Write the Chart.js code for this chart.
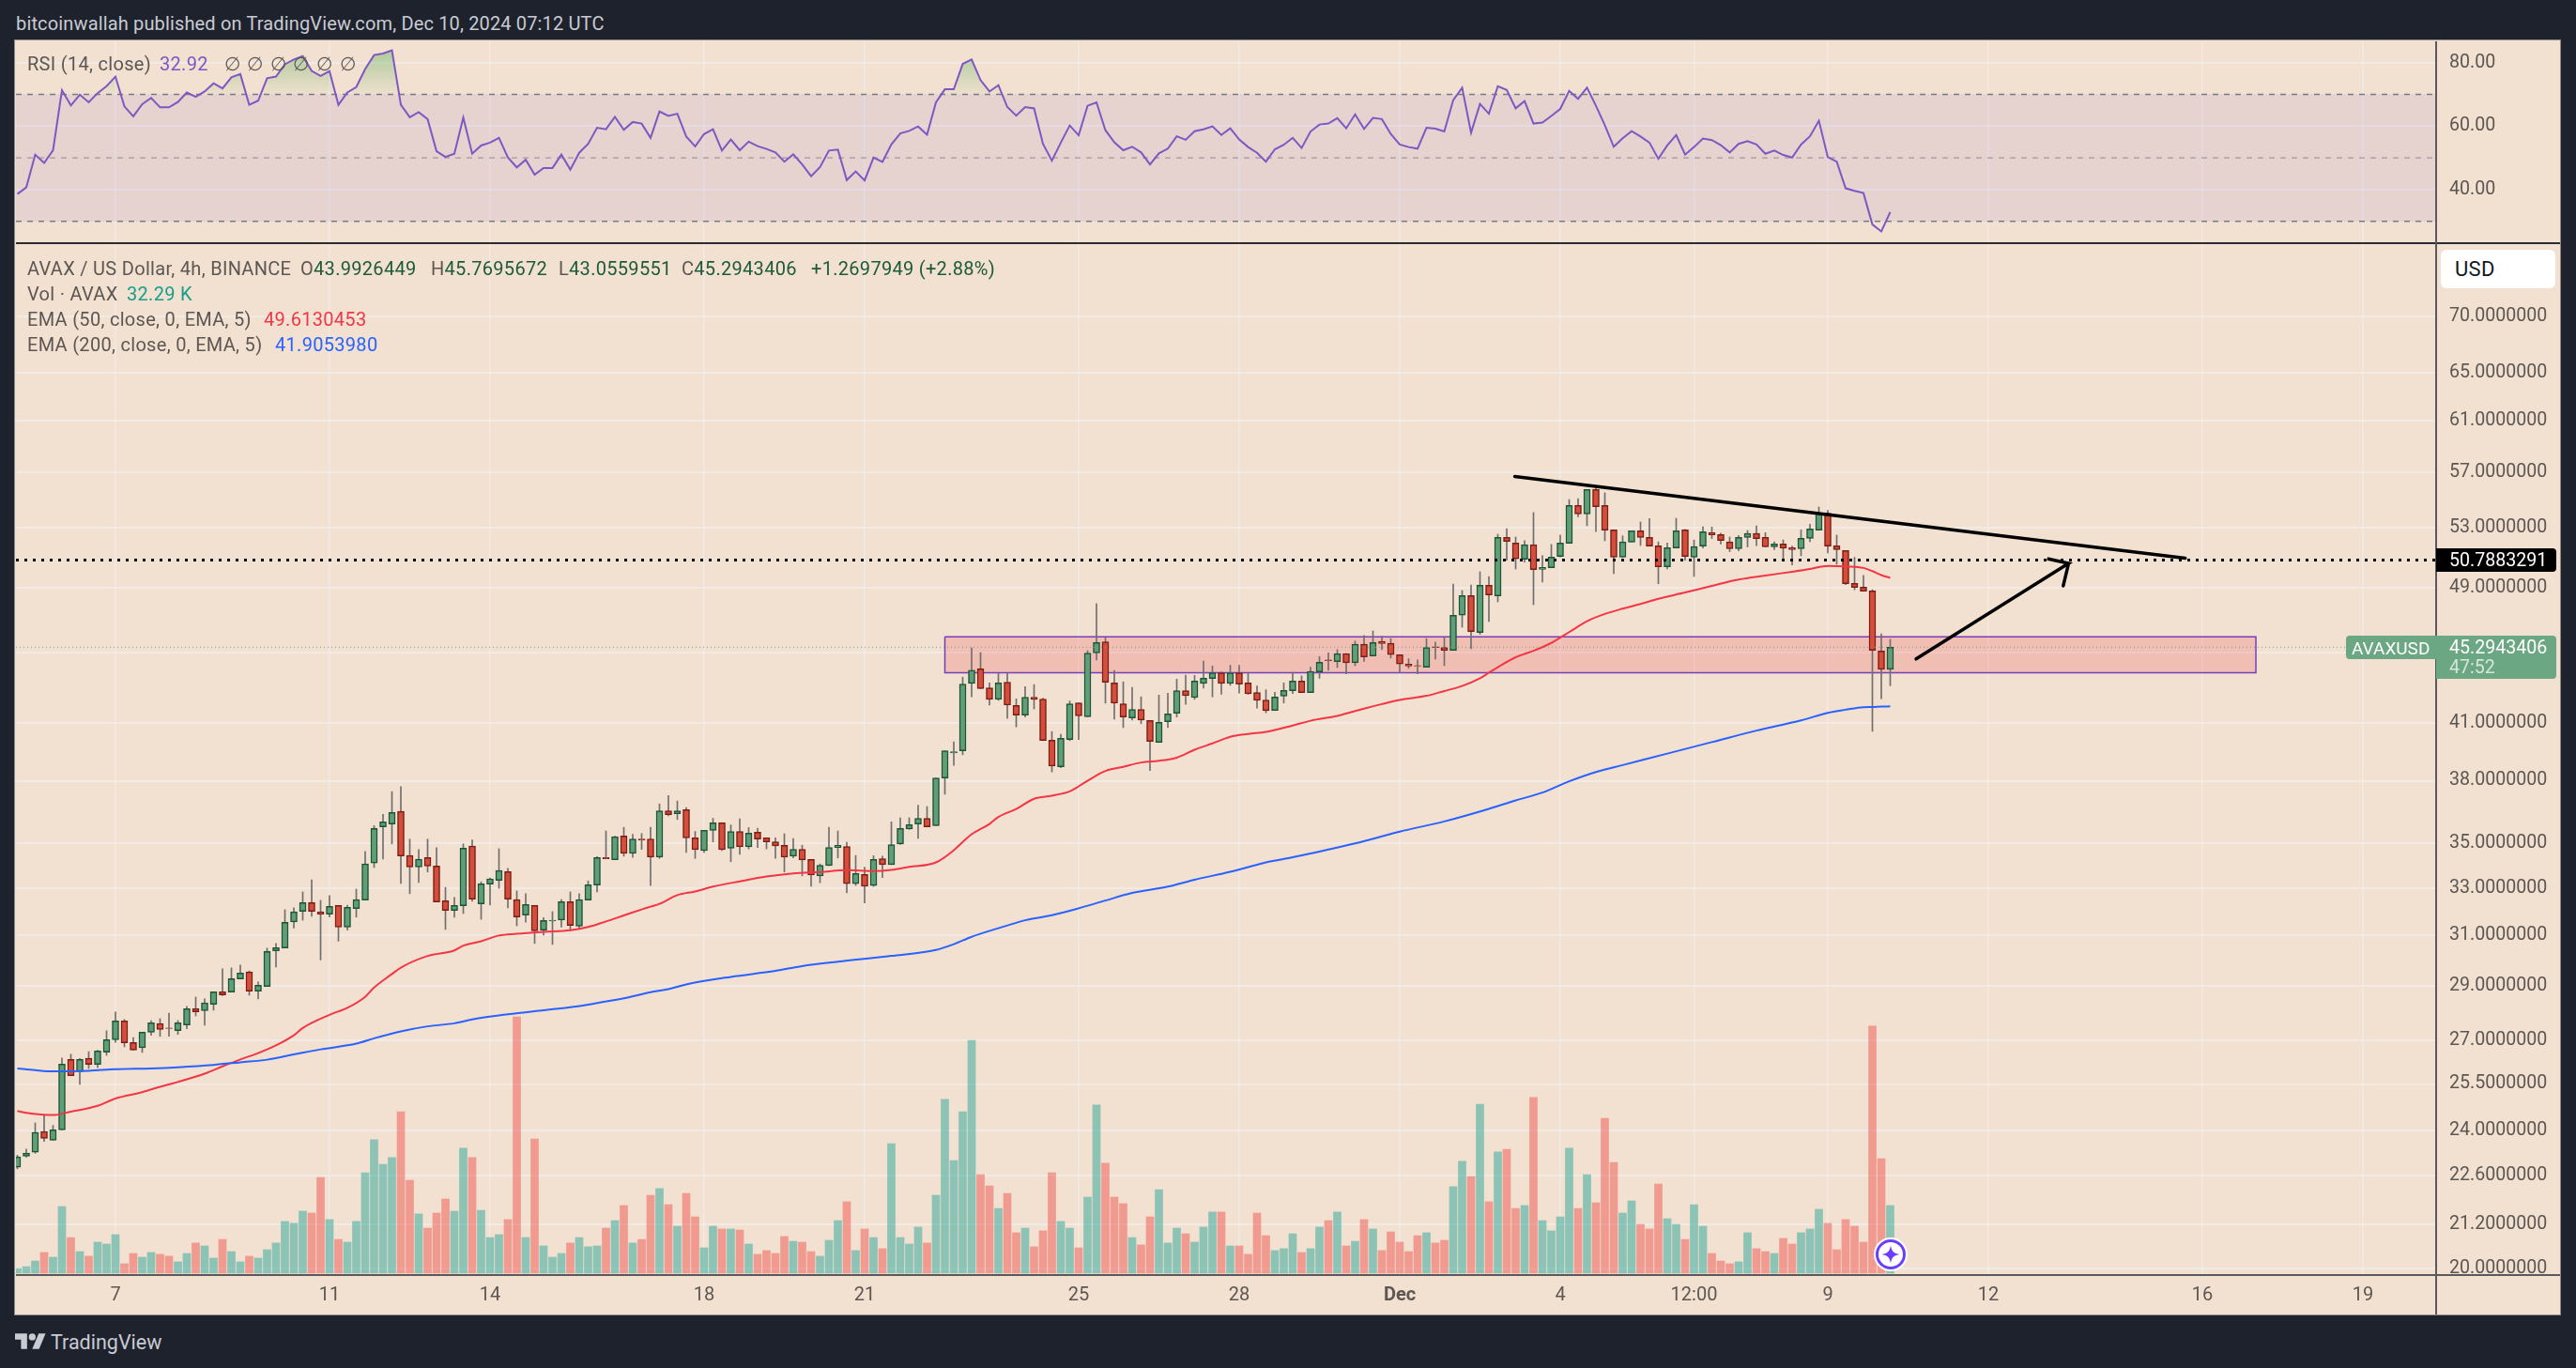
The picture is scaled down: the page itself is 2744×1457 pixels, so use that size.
<!DOCTYPE html>
<html><head><meta charset="utf-8">
<script src="https://cdn.jsdelivr.net/npm/chart.js@4/dist/chart.umd.js"></script>
<style>
html,body{margin:0;padding:0;background:#1e222d;width:2744px;height:1457px;overflow:hidden}
body{font-family:Roboto,"Noto Sans",sans-serif}
#panel{position:absolute;left:16px;top:43px;width:2711px;height:1357px;background:#f2e0d0;box-shadow:0 0 0 1px #8d8a88}
canvas{position:absolute}
.t{position:absolute;white-space:pre;line-height:1;transform:translateY(-50%);font-size:20px;color:#5c5753;letter-spacing:.3px}
.l{position:absolute}
</style></head><body>
<div id="panel"></div>
<canvas id="rsiC" width="2710" height="215" style="left:17px;top:44px"></canvas>
<canvas id="mainC" width="2710" height="1141" style="left:17px;top:260px"></canvas>
<div id="ui"></div>
<script>
// ---------- data ----------
const open=[22.86,23.19,23.31,23.96,23.68,24.01,26.34,25.92,26.38,26.17,
26.59,27.03,27.71,26.93,26.75,27.30,27.61,27.45,27.36,27.56,
28.16,28.08,28.32,28.79,28.78,29.28,29.55,28.81,28.99,30.38,
30.50,31.56,32.00,32.37,31.98,31.88,32.25,31.35,32.12,32.48,
34.10,35.76,35.90,36.50,34.44,33.92,34.35,33.97,32.45,32.04,
32.24,34.87,32.32,33.17,33.33,33.72,32.50,31.84,32.25,31.22,
31.60,31.64,32.41,31.38,32.48,33.13,34.35,34.25,35.34,34.54,
35.20,35.20,34.37,36.53,36.38,36.58,35.25,34.66,35.60,35.95,
34.77,35.55,34.84,35.51,35.25,35.07,34.90,34.41,34.72,34.26,
33.53,33.99,34.80,34.85,33.19,33.59,33.11,34.30,34.03,34.97,
35.66,35.89,36.17,35.82,38.13,39.42,39.52,43.19,44.02,42.94,
42.29,43.26,41.95,41.42,42.41,42.31,40.08,38.70,40.11,42.10,
41.33,44.95,45.62,43.21,42.05,41.27,41.74,41.13,39.96,41.06,
41.52,42.78,42.39,43.19,43.46,43.80,43.19,43.80,43.21,42.67,
42.25,41.68,42.47,42.78,43.33,42.67,43.85,44.54,44.44,44.91,
44.38,45.47,44.78,45.64,45.53,44.85,44.30,44.21,44.12,45.32,
45.28,45.11,47.24,48.47,46.18,49.14,48.45,52.34,51.95,50.85,
51.83,50.18,50.28,51.04,51.92,54.58,53.96,55.74,54.58,52.85,
50.98,52.0,52.79,52.34,51.76,50.34,51.61,52.85,50.98,51.74,
52.66,52.53,52.02,51.55,52.32,52.60,52.34,51.68,51.89,51.63,
51.55,52.27,52.83,54.03,51.76,51.44,49.26,49.02,48.78,45.07,
43.9926];
const high=[23.22,23.41,24.23,24.49,24.15,26.39,26.52,26.37,26.61,26.66,
27.35,28.03,27.76,27.11,27.30,27.72,27.79,27.99,27.72,28.24,
28.59,28.52,28.79,29.67,29.71,29.82,29.59,29.16,30.49,30.68,
32.07,32.15,32.83,33.36,32.47,32.67,32.25,32.26,32.95,34.62,
35.82,36.36,37.46,37.70,35.19,34.71,35.19,34.80,33.03,32.59,
34.97,35.15,33.27,33.44,34.75,33.86,32.87,32.75,32.25,31.74,
31.99,32.50,32.83,32.75,33.31,34.39,35.57,35.33,35.74,35.41,
35.45,35.74,36.86,37.27,37.0,36.68,35.55,35.60,36.17,35.95,
35.85,36.14,35.73,35.70,35.25,35.25,35.44,35.22,34.91,34.26,
34.06,35.74,35.57,35.04,34.44,33.92,34.43,34.41,36.0,36.19,
36.19,36.80,36.73,38.14,39.53,40.0,43.55,45.25,44.97,43.21,
43.78,43.78,42.32,43.01,43.12,42.36,40.54,40.39,42.20,42.10,
45.09,47.95,45.86,43.93,43.28,42.96,42.43,41.13,42.53,42.64,
43.43,43.66,43.64,44.47,44.19,43.85,44.23,44.23,43.78,43.05,
42.83,42.69,43.22,43.82,43.62,44.12,44.74,44.96,45.15,44.91,
45.66,46.0,46.27,45.94,45.81,44.85,44.61,44.54,45.81,45.60,
45.90,49.22,48.80,49.16,50.02,49.71,52.55,52.94,52.36,52.10,
54.07,51.08,51.85,52.49,55.0,55.07,55.74,55.95,55.49,52.85,
52.44,52.79,53.40,53.64,52.02,51.95,53.66,52.89,52.15,53.07,
53.05,52.62,52.36,52.47,52.81,53.13,52.66,52.02,52.15,51.74,
52.85,53.25,54.46,54.23,52.49,51.44,50.98,49.78,48.85,46.10,
45.7696];
const low=[22.81,23.16,23.28,23.65,23.68,24.01,25.78,25.49,26.03,26.06,
26.48,26.94,26.78,26.66,26.58,27.19,27.15,27.15,27.22,27.42,
27.89,27.55,28.10,28.64,28.78,29.28,28.66,28.52,28.99,29.74,
30.50,31.31,31.63,31.79,30.02,31.76,30.77,31.22,31.76,32.48,
33.90,34.28,34.97,33.20,32.75,33.24,33.70,32.40,31.25,31.75,
31.91,32.43,31.67,32.27,32.99,32.15,31.40,31.55,30.68,31.02,
30.64,31.35,31.20,31.31,32.48,32.83,34.29,34.25,34.41,34.35,
34.72,33.11,34.31,36.29,36.11,34.58,34.31,34.58,35.06,34.66,
34.16,34.49,34.74,34.80,34.74,34.31,33.70,34.33,33.53,33.07,
33.23,33.99,34.33,32.79,33.11,32.36,33.07,33.45,34.03,34.94,
35.64,35.23,35.76,35.82,37.33,38.77,39.32,42.43,42.89,41.97,
42.24,41.25,40.79,41.32,41.76,40.06,38.44,38.65,40.06,40.11,
41.33,44.54,42.08,41.21,40.75,41.15,40.96,38.51,39.96,40.75,
41.32,42.02,42.29,42.92,42.43,42.58,43.08,42.64,42.57,41.81,
41.55,41.68,42.09,42.62,42.67,42.67,43.48,43.94,44.10,43.73,
44.20,44.45,44.78,45.15,44.65,43.82,44.05,43.73,44.12,44.59,
44.21,45.11,46.50,45.21,46.07,46.85,48.08,50.78,50.20,50.66,
47.90,49.35,50.28,51.0,51.92,53.76,53.14,52.74,52.10,49.90,
50.98,52.0,51.78,51.74,49.24,50.21,51.61,50.78,49.71,51.61,
52.25,51.87,51.36,51.42,51.68,51.76,51.68,51.49,50.89,50.47,
51.08,52.04,52.83,51.27,50.51,49.18,48.85,48.76,40.55,42.33,
43.0560];
const close=[23.17,23.29,23.93,23.74,24.01,26.18,25.78,26.34,26.17,26.63,
27.03,27.71,26.92,26.66,27.30,27.64,27.40,27.43,27.64,28.16,
28.04,28.37,28.79,28.67,29.29,29.51,28.81,29.04,30.36,30.51,
31.54,31.98,32.37,32.00,31.88,32.21,31.35,32.17,32.50,34.06,
35.69,36.00,36.45,34.42,33.92,34.27,33.96,32.40,32.04,32.25,
34.78,32.52,33.18,33.40,33.77,32.52,31.76,32.29,31.19,31.62,
31.63,32.41,31.41,32.50,33.14,34.35,34.29,35.30,34.54,35.20,
35.15,34.37,36.53,36.34,36.53,35.25,34.71,35.60,35.95,34.71,
35.55,34.84,35.47,35.19,35.06,34.88,34.37,34.72,34.24,33.57,
34.00,34.81,34.90,33.19,33.63,33.07,34.26,34.03,34.94,35.69,
35.86,36.17,35.76,38.14,39.53,39.48,43.15,43.94,42.89,42.29,
43.21,41.98,41.42,42.41,42.29,40.06,38.74,40.18,42.05,41.39,
44.95,45.57,43.25,42.08,41.32,41.74,41.16,40.01,41.03,41.49,
42.78,42.50,43.32,43.48,43.80,43.19,43.80,43.14,42.60,42.23,
41.67,42.43,42.79,43.33,42.67,43.87,44.41,44.50,44.91,44.38,
45.47,44.72,45.58,45.51,44.85,44.30,44.18,44.18,45.28,45.28,
45.11,47.24,48.47,46.24,49.14,48.51,52.34,52.06,50.87,51.83,
50.16,50.30,51.0,51.95,54.58,53.96,55.74,54.49,52.83,50.98,
52.02,52.79,52.32,51.74,50.34,51.63,52.79,51.04,51.70,52.72,
52.51,52.12,51.55,52.34,52.60,52.25,51.68,51.89,51.59,51.49,
52.27,52.92,54.03,51.74,51.49,49.24,49.0,48.76,45.11,43.99,
45.2943];
const volumeK=[2.2,3.1,5.8,9.9,7.6,31.8,17.0,10.3,8.1,14.8,
13.9,18.4,4.5,9.4,7.6,9.9,9.0,8.1,5.4,9.4,
14.4,13.0,7.2,16.1,10.3,5.4,8.1,7.2,11.2,14.4,
24.7,23.8,29.6,28.7,45.7,25.6,16.1,14.8,24.7,48.0,
63.7,52.0,55.2,77.1,44.4,28.3,21.5,28.7,35.4,29.6,
59.7,55.2,30.0,17.0,18.4,25.6,122.4,17.0,64.1,13.0,
7.6,9.4,14.4,17.0,12.6,13.0,21.5,25.1,32.3,14.4,
16.1,37.2,40.4,32.7,22.4,38.1,26.9,12.1,22.4,21.1,
21.1,20.6,13.9,9.0,10.8,9.4,17.5,15.2,14.8,10.3,
8.1,15.7,25.1,34.1,10.8,21.1,17.0,11.7,61.9,17.0,
13.9,22.0,14.4,37.2,83.0,53.8,77.1,111.2,47.1,41.7,
30.9,38.1,19.3,21.5,12.6,20.2,48.0,24.7,21.5,12.1,
36.3,80.3,52.5,36.3,33.2,17.0,13.5,26.9,39.9,14.4,
21.5,18.8,14.8,22.0,29.2,29.2,13.0,13.0,9.0,28.7,
17.9,10.8,11.7,18.8,9.9,11.7,22.0,25.1,29.2,13.0,
15.2,25.6,21.1,10.8,19.7,14.8,10.3,17.9,19.3,14.4,
15.7,41.3,53.4,46.2,80.7,34.1,57.9,59.2,30.9,32.3,
83.9,25.1,20.2,26.9,59.7,30.9,47.1,33.6,74.0,52.9,
28.7,34.5,23.3,21.1,42.6,26.0,23.3,16.1,32.7,22.4,
9.4,5.8,4.5,5.4,19.3,11.7,10.3,9.4,16.6,13.9,
19.3,21.1,30.5,23.8,11.2,25.6,22.4,14.8,118.0,54.7,
32.29];
const rsiValues=[38.6,40.7,51.0,48.4,52.4,71.3,66.5,69.9,67.5,70.4,
72.6,75.6,66.2,63.1,66.9,68.9,65.9,65.9,67.6,70.6,
69.2,70.9,73.5,71.9,75.4,76.4,66.7,68.0,75.1,75.6,
79.5,81.0,82.1,77.4,75.8,77.3,66.7,70.6,72.3,78.0,
82.4,82.9,83.9,66.7,62.8,64.4,62.2,52.1,50.3,51.3,
62.7,51.3,53.9,54.8,56.3,50.1,47.0,49.4,44.7,46.8,
46.8,51.0,46.3,51.6,54.4,59.5,59.0,62.9,58.8,61.3,
60.8,56.3,64.6,63.2,63.9,56.7,53.6,57.5,59.0,52.3,
55.8,52.4,55.1,53.7,52.8,51.7,48.8,51.1,47.9,44.2,
47.1,52.3,52.6,43.0,45.7,42.9,50.1,48.7,54.2,57.7,
58.5,59.9,57.3,67.5,71.6,71.6,79.6,81.0,74.5,70.9,
72.9,66.0,63.3,66.0,65.6,54.4,49.1,54.8,60.2,57.1,
66.4,67.5,58.7,54.9,52.4,53.5,51.7,47.9,51.4,52.9,
56.8,55.7,58.4,59.0,59.9,57.2,59.3,55.8,53.4,51.6,
48.8,52.7,54.1,56.3,53.1,58.3,60.5,60.8,62.5,59.3,
63.7,59.1,62.6,62.2,57.5,54.2,53.4,52.9,59.5,59.2,
58.3,68.2,72.1,57.9,67.0,63.9,72.6,71.4,65.6,67.9,
60.8,61.1,63.2,65.4,71.1,68.6,72.1,66.4,60.3,53.5,
56.2,58.4,56.7,54.8,49.7,53.9,57.2,51.0,53.4,56.1,
55.6,54.0,51.7,54.4,55.3,54.2,51.3,52.3,50.9,50.1,
54.2,56.8,61.7,50.2,48.8,40.4,39.6,38.9,29.0,26.8,
32.92];
const ema50Bars=[0,1,4,6,9,11,14,16,18,21,23,25,27,29,31,32,35,37,39,40,42,43,46,49,50,52,54,56,59,62,64,66,68,70,71,72,74,76,78,81,84,87,90,93,96,98,100,103,105,106,107,109,110,112,114,116,118,119,121,122,124,126,128,130,132,134,136,138,140,143,145,148,151,153,155,158,160,162,164,165,166,168,170,172,174,176,178,180,182,184,187,190,193,196,199,201,203,205,207,208,209,210];
const ema50Values=[24.61,24.55,24.48,24.59,24.78,25.02,25.23,25.41,25.57,25.85,26.10,26.34,26.56,26.83,27.19,27.45,27.93,28.19,28.60,28.95,29.47,29.72,30.18,30.40,30.59,30.77,31.0,31.07,31.15,31.22,31.35,31.58,31.83,32.08,32.20,32.32,32.69,32.85,33.06,33.29,33.50,33.64,33.70,33.78,33.74,33.79,33.93,34.13,34.68,35.06,35.42,35.90,36.23,36.61,37.11,37.26,37.47,37.72,38.27,38.49,38.70,38.92,39.01,39.17,39.58,39.91,40.26,40.41,40.52,40.86,41.12,41.38,41.78,42.03,42.26,42.49,42.76,43.04,43.48,43.80,44.12,44.70,45.08,45.55,46.20,46.87,47.32,47.65,47.94,48.27,48.67,49.10,49.51,49.77,50.02,50.20,50.41,50.37,50.27,50.06,49.80,49.613];
const ema200Bars=[0,2,4,8,11,15,18,22,25,28,31,34,38,40,43,46,49,51,55,59,62,64,68,71,73,75,80,85,88,92,98,103,105,107,110,113,116,119,122,125,129,132,136,140,143,145,150,155,160,165,168,171,174,177,180,185,190,195,200,203,205,207,208,209,210];
const ema200Values=[26.03,25.97,25.93,25.95,26.0,26.03,26.07,26.15,26.24,26.33,26.51,26.69,26.89,27.08,27.33,27.51,27.62,27.76,27.95,28.10,28.21,28.31,28.54,28.77,28.89,29.07,29.36,29.59,29.78,29.95,30.18,30.42,30.65,30.95,31.30,31.63,31.84,32.13,32.46,32.79,33.06,33.36,33.71,34.13,34.36,34.53,34.99,35.54,36.02,36.62,37.03,37.41,37.97,38.44,38.79,39.38,39.98,40.59,41.14,41.55,41.72,41.86,41.87,41.89,41.9054];
const timeTickBars=[11,35,53,77,95,119,137,155,173,188,203,221,245,263];
const timeTickLabels=['7','11','14','18','21','25','28','Dec','4','12:00','9','12','16','19'];
const priceTicks=[70,65,61,57,53,49,45,41,38,35,33,31,29,27,25.5,24,22.6,21.2,20];
const rsiTicks=[80,60,40];
const rsiLevels=[70,50,30];
const zonePrices=[45.92,43.8];
const zoneBars=[104,251];
const resistancePrice=50.7883291;
const lastPrice=45.2943406;
const trendBars=[167.9,243.07];
const trendPrices=[56.7,50.92];
const arrowBars=[212.9,230.0,227.6,230.0,229.4];
const arrowPrices=[44.6,50.57,50.89,50.57,49.10];

// ---------- scales ----------
const xMin=-0.158,xMax=271.21;
const rsiMin=23.11,rsiMax=86.72;
const priceMin=19.86,priceMax=76.96;
const volMin=-0.45,volMax=491.5;
const pts=(xs,ys)=>xs.map((x,i)=>({x,y:ys[i]}));
const bars=open.map((_,i)=>i);
const up=open.map((o,i)=>close[i]>=o);
const gridColor='rgba(240,243,250,0.5)';
const xScale=(extra)=>Object.assign({type:'linear',min:xMin,max:xMax,bounds:'data',offset:false,
  grid:{color:gridColor,lineWidth:1.5,offset:false,drawTicks:false},border:{display:false},
  afterBuildTicks:s=>{s.ticks=timeTickBars.map(v=>({value:v}));}},extra);
const FONT='Roboto';

// ---------- RSI pane ----------
const rsiCtx=document.getElementById('rsiC').getContext('2d');
const yOf=v=>(rsiMax-v)/(rsiMax-rsiMin)*215;
const obGrad=rsiCtx.createLinearGradient(0,yOf(84),0,yOf(70));
obGrad.addColorStop(0,'rgba(76,175,80,0.42)');obGrad.addColorStop(1,'rgba(76,175,80,0.02)');
new Chart(rsiCtx,{type:'line',data:{datasets:[
 {data:pts(bars,rsiValues),borderColor:'#7e57c2',borderWidth:2,pointRadius:0,order:1,
  fill:{target:{value:70},above:obGrad,below:'rgba(0,0,0,0)'}},
 {data:pts([xMin,xMax],[rsiLevels[0],rsiLevels[0]]),borderColor:'#787b86',borderWidth:1.5,borderDash:[6,6],pointRadius:0,order:2,
  fill:{target:{value:rsiLevels[2]},above:'rgba(126,87,194,0.1)',below:'rgba(126,87,194,0.1)'}},
 {data:pts([xMin,xMax],[rsiLevels[1],rsiLevels[1]]),borderColor:'rgba(120,123,134,0.55)',borderWidth:1.5,borderDash:[6,6],pointRadius:0,order:2},
 {data:pts([xMin,xMax],[rsiLevels[2],rsiLevels[2]]),borderColor:'#787b86',borderWidth:1.5,borderDash:[6,6],pointRadius:0,order:2}
]},options:{responsive:false,animation:false,devicePixelRatio:1,layout:{padding:0},events:[],
 plugins:{legend:{display:false},tooltip:{enabled:false}},
 scales:{
  x:xScale({ticks:{display:false,autoSkip:false},afterFit:s=>{s.height=0;s.paddingLeft=0;s.paddingRight=0;}}),
  y:{type:'linear',position:'right',min:rsiMin,max:rsiMax,bounds:'data',
   grid:{color:gridColor,lineWidth:2,drawTicks:false},border:{display:false},
   afterBuildTicks:s=>{s.ticks=rsiTicks.map(v=>({value:v}));},
   afterFit:s=>{s.width=132;s.paddingTop=0;s.paddingBottom=0;},
   ticks:{autoSkip:false,padding:14,crossAlign:'near',color:'#5c5753',font:{family:FONT,size:19.6},callback:v=>v.toFixed(2)}}
 }}});

// ---------- price pane ----------
const mainCtx=document.getElementById('mainC').getContext('2d');
const line=(xs,ys,o)=>Object.assign({type:'line',data:pts(xs,ys),pointRadius:0,yAxisID:'y',fill:false},o);
new Chart(mainCtx,{type:'bar',data:{datasets:[
 line(arrowBars,arrowPrices,{borderColor:'#000',borderWidth:3.5,order:1,borderCapStyle:'round'}),
 line(trendBars,trendPrices,{borderColor:'#000',borderWidth:3.5,order:1,borderCapStyle:'round'}),
 line([xMin,xMax],[resistancePrice,resistancePrice],{borderColor:'#000',borderWidth:3,borderDash:[3,6],order:2}),
 line([xMin,xMax],[lastPrice,lastPrice],{borderColor:'#6ba583',borderWidth:1,borderDash:[1,3],order:2}),
 line(ema200Bars,ema200Values,{borderColor:'#2962ff',borderWidth:2,order:3,cubicInterpolationMode:'monotone'}),
 line(ema50Bars,ema50Values,{borderColor:'#f23645',borderWidth:2,order:4,cubicInterpolationMode:'monotone'}),
 {type:'bar',label:'body',data:pts(bars,open.map((o,i)=>[o,close[i]])),yAxisID:'y',grouped:false,barThickness:7,categoryPercentage:1,barPercentage:1,
  backgroundColor:up.map(u=>u?'#5f9e78':'#d44e3c'),borderColor:up.map(u=>u?'#1b5536':'#7c1c14'),borderWidth:1.5,borderSkipped:false,order:5},
 {type:'bar',label:'wick',data:pts(bars,low.map((l,i)=>[l,high[i]])),yAxisID:'y',grouped:false,barThickness:1,categoryPercentage:1,barPercentage:1,
  backgroundColor:'#6f6f6f',borderWidth:0,order:6},
 line(zoneBars,[zonePrices[0],zonePrices[0]],{borderWidth:0,order:7,fill:{target:{value:zonePrices[1]},above:'rgba(242,54,69,0.2)',below:'rgba(242,54,69,0.2)'}}),
 line([zoneBars[0],zoneBars[1],zoneBars[1],zoneBars[0],zoneBars[0]],[zonePrices[0],zonePrices[0],zonePrices[1],zonePrices[1],zonePrices[0]],{borderColor:'#6a3fc8',borderWidth:1.5,order:7}),
 {type:'bar',label:'volume',data:pts(bars,volumeK),yAxisID:'v',grouped:false,barThickness:8,categoryPercentage:1,barPercentage:1,
  backgroundColor:up.map(u=>u?'rgba(38,166,154,0.5)':'rgba(239,83,80,0.5)'),borderWidth:0,order:8}
]},options:{responsive:false,animation:false,devicePixelRatio:1,layout:{padding:0},events:[],
 plugins:{legend:{display:false},tooltip:{enabled:false}},
 scales:{
  x:xScale({ticks:{autoSkip:false,maxRotation:0,padding:11,color:'#5c5753',
     font:c=>({family:FONT,size:20,weight:timeTickLabels[c.index]==='Dec'?'700':'400'}),
     callback:v=>timeTickLabels[timeTickBars.indexOf(v)]},
    afterFit:s=>{s.height=44;s.paddingLeft=0;s.paddingRight=0;}}),
  y:{type:'logarithmic',position:'right',min:priceMin,max:priceMax,bounds:'data',
   grid:{color:gridColor,lineWidth:2,drawTicks:false},border:{display:false},
   afterBuildTicks:s=>{s.ticks=priceTicks.map(v=>({value:v}));},
   afterFit:s=>{s.width=132;s.paddingTop=0;s.paddingBottom=0;},
   ticks:{autoSkip:false,padding:14,crossAlign:'near',color:'#5c5753',font:{family:FONT,size:19.6},callback:v=>v.toFixed(7)}},
  v:{type:'linear',display:false,min:volMin,max:volMax,bounds:'data'}
 }}});

// ---------- overlay text and chrome ----------
const ui=document.getElementById('ui');
function box(l,t,w,h,css){const d=document.createElement('div');d.className='l';d.style.cssText=`left:${l}px;top:${t}px;width:${w}px;height:${h}px;${css||''}`;ui.appendChild(d);return d;}
function txt(x,y,s,color,size,extra){const d=document.createElement('div');d.className='t';d.textContent=s;d.style.left=x+'px';d.style.top=y+'px';if(color)d.style.color=color;if(size)d.style.fontSize=size+'px';if(extra)d.style.cssText+=extra;ui.appendChild(d);return d;}
// cover under the clipped bottom tick label
box(2596,1358,131,42,'background:#f2e0d0');
// pane separators
box(17,258,2710,2,'background:#2a2c33');
box(17,1357,2710,2,'background:#5a5a5e');
box(2594,44,2,1356,'background:#5a5a5e');
// header
txt(17,25,'bitcoinwallah published on TradingView.com, Dec 10, 2024 07:12 UTC','#c9cbd3',20,'letter-spacing:.15px');
// RSI legend
txt(29,68,'RSI (14, close)');
txt(170,68,String(rsiValues[rsiValues.length-1].toFixed(2)),'#7e57c2');
[239,263,288,312,337,362].forEach(x=>txt(x,68,'∅'));
// main legend
const gv='#1d5a3a';
txt(29,285.5,'AVAX / US Dollar, 4h, BINANCE');
[[320,'O','43.9926449'],[459,'H','45.7695672'],[595,'L','43.0559551'],[726,'C','45.2943406']].forEach(([x,k,v])=>{const d=txt(x,285.5,k);const s=document.createElement('span');s.textContent=v;s.style.color=gv;d.appendChild(s);});
txt(864,285.5,'+1.2697949 (+2.88%)',gv);
txt(29,312.5,'Vol · AVAX');txt(135,312.5,'32.29 K','#16a08c');
txt(29,339.5,'EMA (50, close, 0, EMA, 5)');txt(281,339.5,'49.6130453','#f23645');
txt(29,367,'EMA (200, close, 0, EMA, 5)');txt(293,367,'41.9053980','#2962ff');
// axis labels
box(2600,266,122,41,'background:#fff;border-radius:6px');
txt(2615,287,'USD','#131722',22);
box(2595,584,128,25,'background:#000;border-radius:0 4px 4px 0');
txt(2609,597,resistancePrice.toFixed(7),'#fff',19.6,'letter-spacing:0');
box(2499,677,96,25,'background:#6ca784;border-radius:4px 0 0 4px');
txt(2505,690,'AVAXUSD','#fff',19,'letter-spacing:0');
box(2595,677,128,46,'background:#6ca784;border-radius:0 4px 4px 0');
txt(2609,690,lastPrice.toFixed(7),'#fff',19.6,'letter-spacing:0');
txt(2609,711,'47:52','#d5e6da',19.6,'letter-spacing:0');
// footer
txt(54,1430,'TradingView','#c9cbd3',21.5,'letter-spacing:0');
ui.insertAdjacentHTML('beforeend',`<svg class="l" style="left:16px;top:1420px" width="33" height="17" viewBox="0 7 36 18"><path fill="#c9cbd3" d="M14 25H7V14H0V7h14v18zM28 25h-8l7.5-18h8L28 25z"/><circle cx="20" cy="11" r="4" fill="#c9cbd3"/></svg>`);
ui.insertAdjacentHTML('beforeend',`<svg class="l" style="left:1996px;top:1318px" width="36" height="36" viewBox="0 0 36 36"><circle cx="18" cy="18" r="18" fill="#fff"/><circle cx="18" cy="18" r="14.5" fill="#fff" stroke="#6a3dff" stroke-width="3"/><path fill="#6a3dff" d="M18 8.5c.9 6 3.5 8.6 9.5 9.5-6 .9-8.6 3.5-9.5 9.5-.9-6-3.5-8.6-9.5-9.5 6-.9 8.6-3.5 9.5-9.5z"/></svg>`);
</script>
</body></html>
